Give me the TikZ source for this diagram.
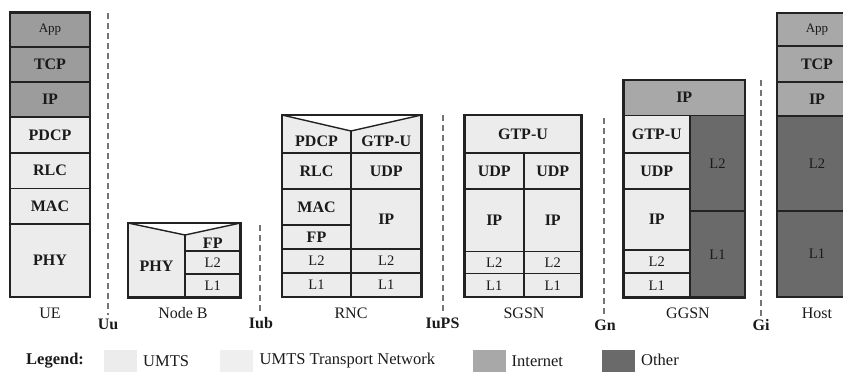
\documentclass[tikz,border=0pt]{standalone}
\usepackage{fontspec}
\setmainfont{Liberation Serif}
\definecolor{linec}{HTML}{222222}
\definecolor{txt}{HTML}{1A1A1A}
\definecolor{umts}{HTML}{ECECEC}
\definecolor{umtstn}{HTML}{EFEFEF}
\definecolor{uegray}{HTML}{9C9C9C}
\definecolor{inet}{HTML}{A8A8A8}
\definecolor{other}{HTML}{6A6A6A}
\definecolor{dashc}{HTML}{757575}
% rectangular protocol cell: name, x1, y1, x2, y2, fill, font style, text
\newcommand\cellbox[8]{\node[cell,fill=#6,#7,minimum width={(#4-#2)*1pt},minimum height={(#5-#3)*1pt}] (#1) at ({(#2+#4)/2},{(#3+#5)/2}) {#8};}
% thick outline of a whole protocol stack
\newcommand\stackframe[5]{\node[frame,minimum width={(#4-#2)*1pt},minimum height={(#5-#3)*1pt}] (#1) at ({(#2+#4)/2},{(#3+#5)/2}) {};}
\begin{document}
\begin{tikzpicture}[x=1pt,y=-1pt,
  cell/.style={draw=linec,line width=1.4pt,inner sep=0pt,outer sep=0pt,text=txt},
  frame/.style={draw=linec,line width=2.8pt,inner sep=0pt,outer sep=0pt},
  inner line/.style={draw=linec,line width=1.4pt},
  bl/.style={font=\fontsize{16}{18}\selectfont\bfseries,text=txt},
  rg/.style={font=\fontsize{14.5}{16}\selectfont,text=txt},
  sm/.style={font=\fontsize{13}{15}\selectfont,text=txt},
  stacklbl/.style={font=\fontsize{16}{18}\selectfont,text=txt},
  ilbl/.style={font=\fontsize{16}{18}\selectfont\bfseries,text=txt,inner sep=0pt},
  iface/.style={draw=dashc,line width=2pt,dash pattern=on 6pt off 4pt,shorten >=3pt},
  swatch/.style={inner sep=0pt,minimum width=33pt,minimum height=22pt},
  legtext/.style={font=\fontsize{16.5}{18}\selectfont,text=txt,anchor=west,inner sep=0pt},
]
\useasboundingbox (0,0) rectangle (843,372);

% ---------------- UE ----------------
\cellbox{ue-app}{10}{12.5}{90}{47}{uegray}{sm}{App}
\cellbox{ue-tcp}{10}{47}{90}{82}{uegray}{bl}{TCP}
\cellbox{ue-ip}{10}{82}{90}{117}{uegray}{bl}{IP}
\cellbox{ue-pdcp}{10}{117}{90}{153}{umts}{bl}{PDCP}
\cellbox{ue-rlc}{10}{153}{90}{188.5}{umts}{bl}{RLC}
\cellbox{ue-mac}{10}{188.5}{90}{224}{umts}{bl}{MAC}
\cellbox{ue-phy}{10}{224}{90}{297}{umts}{bl}{PHY}
\stackframe{ue}{10}{12.5}{90}{297}
\node[stacklbl] (ue-name) at (50,313) {UE};

% ---------------- Uu ----------------
\node[ilbl] (uu) at (108,324) {Uu};
\coordinate (uu-top) at (108,13);
\draw[iface] (uu-top) -- (uu-top |- uu.north);

% ---------------- Node B ----------------
\fill[umts] (128,223) rectangle (240.5,297.5);
\fill[white] (128,223) -- (185,235) -- (240.5,223) -- cycle;
\draw[inner line] (128,223) -- (185,235) -- (240.5,223);
\draw[inner line] (185,235) -- (185,297.5);
\node[bl] (nb-phy) at (156.5,266) {PHY};
\node[bl] (nb-fp) at (212.75,243.5) {FP};
\cellbox{nb-l2}{185}{251}{240.5}{274}{umts}{rg}{L2}
\cellbox{nb-l1}{185}{274}{240.5}{297.5}{umts}{rg}{L1}
\stackframe{nodeb}{128}{223}{240.5}{297.5}
\node[stacklbl] (nodeb-name) at (183,313) {Node B};

% ---------------- Iub ----------------
\node[ilbl] (iub) at (261,323) {Iub};
\coordinate (iub-top) at (260,225);
\draw[iface] (iub-top) -- (iub-top |- iub.north);

% ---------------- RNC ----------------
\fill[umts] (282,115) rectangle (421.5,153);
\fill[white] (282,115) -- (351,131) -- (421.5,115) -- cycle;
\draw[inner line] (282,115) -- (351,131) -- (421.5,115);
\draw[inner line] (351,131) -- (351,153);
\node[bl] (rnc-pdcp) at (316.5,141.5) {PDCP};
\node[bl] (rnc-gtpu) at (386.25,141.5) {GTP-U};
\cellbox{rnc-rlc}{282}{153}{351}{189}{umts}{bl}{RLC}
\cellbox{rnc-mac}{282}{189}{351}{225}{umts}{bl}{MAC}
\cellbox{rnc-fp}{282}{225}{351}{249}{umts}{bl}{FP}
\cellbox{rnc-l2a}{282}{249}{351}{273}{umts}{rg}{L2}
\cellbox{rnc-l1a}{282}{273}{351}{297}{umts}{rg}{L1}
\cellbox{rnc-udp}{351}{153}{421.5}{189}{umts}{bl}{UDP}
\cellbox{rnc-ip}{351}{189}{421.5}{249}{umts}{bl}{IP}
\cellbox{rnc-l2b}{351}{249}{421.5}{273}{umts}{rg}{L2}
\cellbox{rnc-l1b}{351}{273}{421.5}{297}{umts}{rg}{L1}
\stackframe{rnc}{282}{115}{421.5}{297}
\node[stacklbl] (rnc-name) at (351,313) {RNC};

% ---------------- IuPS ----------------
\node[ilbl] (iups) at (442.5,323) {IuPS};
\coordinate (iups-top) at (442.5,115);
\draw[iface] (iups-top) -- (iups-top |- iups.north);

% ---------------- SGSN ----------------
\cellbox{sg-gtpu}{464.5}{115}{581.5}{153}{umts}{bl}{GTP-U}
\cellbox{sg-udpa}{464.5}{153}{524}{189}{umts}{bl}{UDP}
\cellbox{sg-ipa}{464.5}{189}{524}{251.5}{umts}{bl}{IP}
\cellbox{sg-l2a}{464.5}{251.5}{524}{273.5}{umts}{rg}{L2}
\cellbox{sg-l1a}{464.5}{273.5}{524}{297}{umts}{rg}{L1}
\cellbox{sg-udpb}{524}{153}{581.5}{189}{umts}{bl}{UDP}
\cellbox{sg-ipb}{524}{189}{581.5}{251.5}{umts}{bl}{IP}
\cellbox{sg-l2b}{524}{251.5}{581.5}{273.5}{umts}{rg}{L2}
\cellbox{sg-l1b}{524}{273.5}{581.5}{297}{umts}{rg}{L1}
\stackframe{sgsn}{464.5}{115}{581.5}{297}
\node[stacklbl] (sgsn-name) at (524,313) {SGSN};

% ---------------- Gn ----------------
\node[ilbl] (gn) at (605,325) {Gn};
\coordinate (gn-top) at (603.5,118);
\draw[iface] (gn-top) -- (gn-top |- gn.north);

% ---------------- GGSN ----------------
\cellbox{gg-ip}{623.5}{80}{745}{115.5}{inet}{bl}{IP}
\cellbox{gg-gtpu}{623.5}{115.5}{690}{153}{umts}{bl}{GTP-U}
\cellbox{gg-udp}{623.5}{153}{690}{189}{umts}{bl}{UDP}
\cellbox{gg-ipu}{623.5}{189}{690}{250}{umts}{bl}{IP}
\cellbox{gg-l2a}{623.5}{250}{690}{273}{umts}{rg}{L2}
\cellbox{gg-l1a}{623.5}{273}{690}{297.5}{umts}{rg}{L1}
\cellbox{gg-l2b}{690}{115.5}{745}{211}{other}{rg}{L2}
\cellbox{gg-l1b}{690}{211}{745}{297.5}{other}{rg}{L1}
\stackframe{ggsn}{623.5}{80}{745}{297.5}
\node[stacklbl] (ggsn-name) at (688,313) {GGSN};

% ---------------- Gi ----------------
\node[ilbl] (gi) at (761,325) {Gi};
\coordinate (gi-top) at (760.5,80);
\draw[iface] (gi-top) -- (gi-top |- gi.north);

% ---------------- Host ----------------
\cellbox{h-app}{777}{13}{857}{46}{inet}{sm}{App}
\cellbox{h-tcp}{777}{46}{857}{82}{inet}{bl}{TCP}
\cellbox{h-ip}{777}{82}{857}{116}{inet}{bl}{IP}
\cellbox{h-l2}{777}{116}{857}{211}{other}{rg}{L2}
\cellbox{h-l1}{777}{211}{857}{297}{other}{rg}{L1}
\stackframe{host}{777}{13}{857}{297}
\node[stacklbl] (host-name) at (817,313) {Host};

% ---------------- Legend ----------------
\node[font=\fontsize{16.5}{18}\selectfont\bfseries,text=txt,anchor=west,inner sep=0pt] (leg) at (26,361) {Legend:};
\node[swatch,fill=umts] (sw-umts) at (120.5,361) {};
\node[legtext] (lt-umts) at (143,361) {UMTS};
\node[swatch,fill=umtstn] (sw-tn) at (236.5,361) {};
\node[legtext] (lt-tn) at (259.5,361) {UMTS Transport Network};
\node[swatch,fill=inet] (sw-inet) at (489,361) {};
\node[legtext] (lt-inet) at (511.5,361) {Internet};
\node[swatch,fill=other] (sw-other) at (618.5,361) {};
\node[legtext] (lt-other) at (641,360) {Other};
\end{tikzpicture}
\end{document}
